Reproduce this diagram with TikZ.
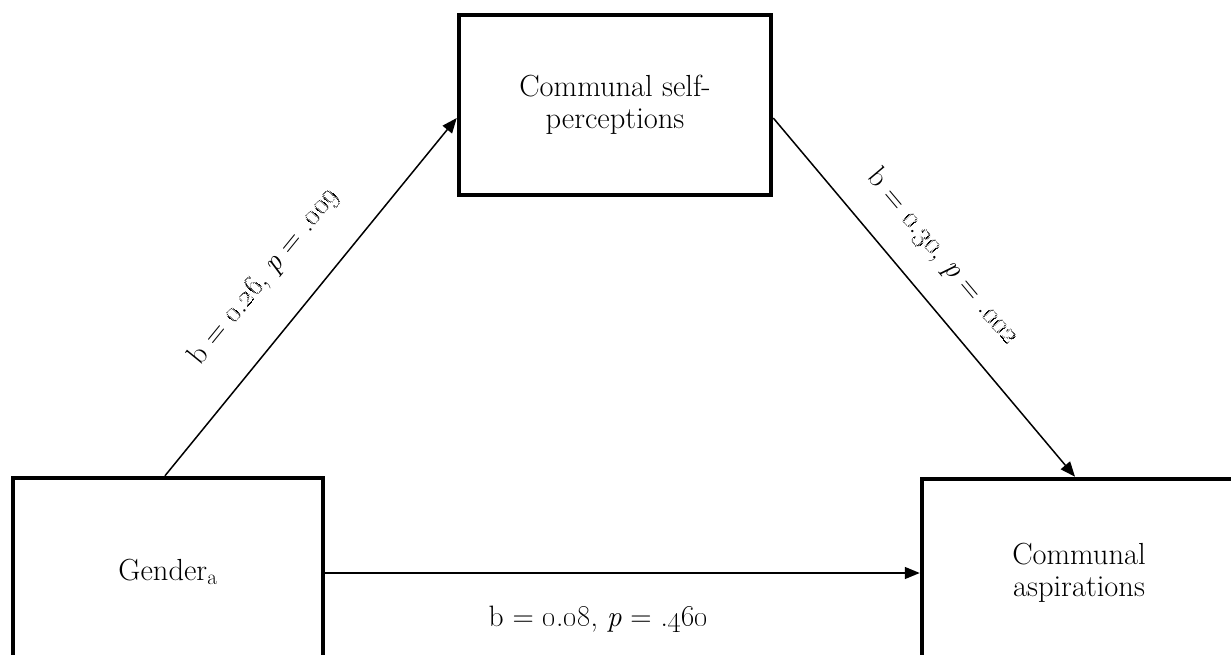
\documentclass[tikz,border=0pt]{standalone}
\usetikzlibrary{arrows.meta}
\newcommand{\osn}[1]{\oldstylenums{#1}}
\tikzset{
  varbox/.style={draw, line width=4.5pt, inner sep=0pt, align=center,
    font=\fontsize{30.5}{32.5}\selectfont},
  path/.style={line width=1.5pt, -{Triangle[length=15pt,width=12pt]}},
  coef/.style={font=\fontsize{29.5}{31}\selectfont, inner sep=0pt}
}
\begin{document}
\begin{tikzpicture}[x=1pt,y=-1pt]
\useasboundingbox (0,0) rectangle (1231,655);
\node[varbox, minimum width=310pt, minimum height=188pt] (gen) at (168,572) {Gender\textsubscript{a}};
\node[varbox, minimum width=312pt, minimum height=180pt] (csp) at (615,105) {Communal self-\\perceptions};
\node[varbox, minimum width=314pt, minimum height=188pt] (cas) at (1079,573) {Communal\\aspirations};
\draw[path] (gen.north -| 165,0) -- (csp.west |- 0,118)
  node[coef, pos=0.47, sloped, yshift=49pt] (l1) {b = \osn{0}.\osn{26}, \textit{p} = .\osn{009}};
\draw[path] (csp.east |- 0,118) -- (cas.north -| 1075,0)
  node[coef, pos=0.46, sloped, yshift=40pt] (l2) {b = \osn{0}.\osn{30}, \textit{p} = .\osn{002}};
\draw[path] (gen.east |- 0,573) -- (cas.west |- 0,573)
  node[coef, pos=0.5, xshift=-24pt, yshift=-46pt] (l3) {b = \osn{0}.\osn{08}, \textit{p} = .\osn{460}};
\end{tikzpicture}
\end{document}
